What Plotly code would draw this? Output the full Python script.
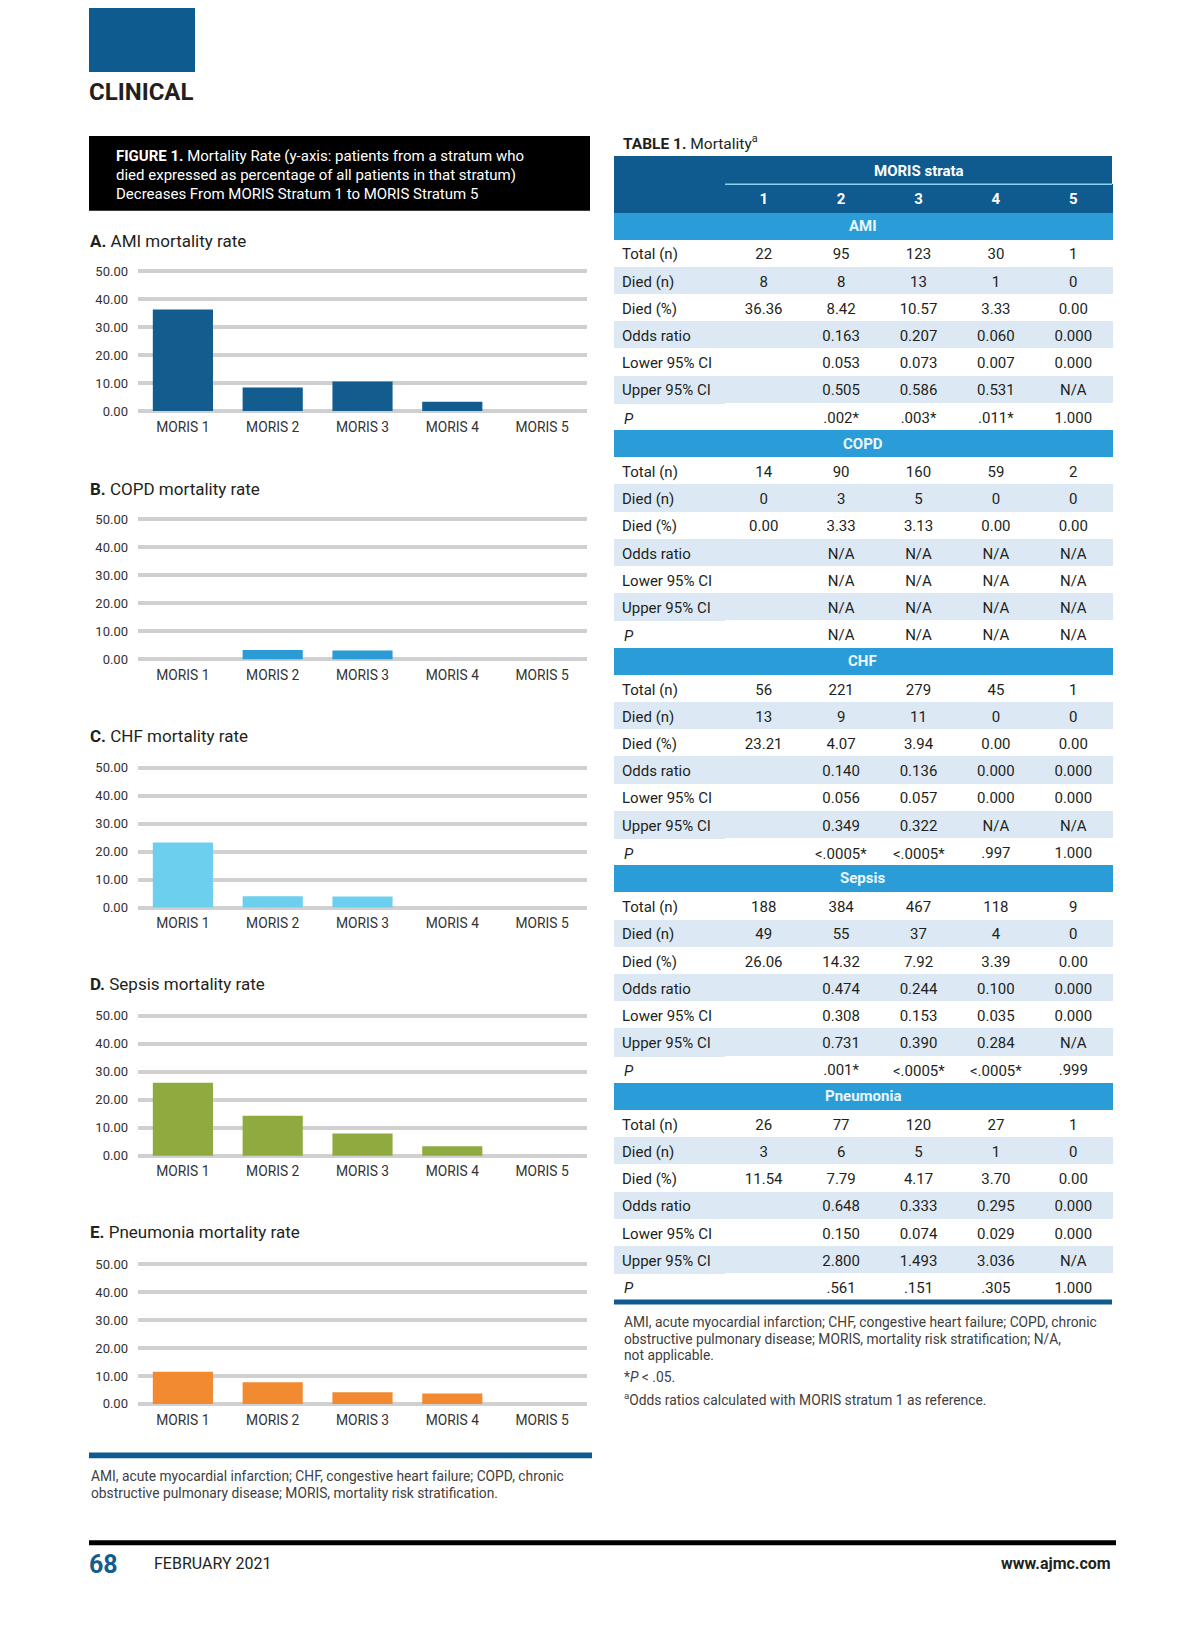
import plotly.graph_objects as go

# The page body has an 8px default margin; the figure is offset by it.
OFF = 8
PAGE_W, PAGE_H = 1200, 1638
W, H = PAGE_W - OFF, PAGE_H - OFF
FONT = "Roboto"
INK = "#231f20"
DARK_BLUE = "#0f5a8e"
BAND_BLUE = "#2a9dd8"
LIGHT_ROW = "#dce9f5"
NOTE = "#404040"

# ---------------- data ----------------
strata = ["MORIS 1", "MORIS 2", "MORIS 3", "MORIS 4", "MORIS 5"]
y_ticks = [0, 10, 20, 30, 40, 50]

ami_died_pct = [36.36, 8.42, 10.57, 3.33, 0.00]
copd_died_pct = [0.00, 3.33, 3.13, 0.00, 0.00]
chf_died_pct = [23.21, 4.07, 3.94, 0.00, 0.00]
sepsis_died_pct = [26.06, 14.32, 7.92, 3.39, 0.00]
pneumonia_died_pct = [11.54, 7.79, 4.17, 3.70, 0.00]

chart_titles = ["<b>A.</b> AMI mortality rate", "<b>B.</b> COPD mortality rate",
                "<b>C.</b> CHF mortality rate", "<b>D.</b> Sepsis mortality rate",
                "<b>E.</b> Pneumonia mortality rate"]
bar_colors = ["#135c8e", "#2b9bd6", "#6dcfee", "#8fab3f", "#f18a31"]

strata_numbers = ["1", "2", "3", "4", "5"]
row_labels = ["Total (n)", "Died (n)", "Died (%)", "Odds ratio",
              "Lower 95% CI", "Upper 95% CI", "P"]
section_names = ["AMI", "COPD", "CHF", "Sepsis", "Pneumonia"]

ami_rows = [
    ["22", "95", "123", "30", "1"],
    ["8", "8", "13", "1", "0"],
    ["36.36", "8.42", "10.57", "3.33", "0.00"],
    ["", "0.163", "0.207", "0.060", "0.000"],
    ["", "0.053", "0.073", "0.007", "0.000"],
    ["", "0.505", "0.586", "0.531", "N/A"],
    ["", ".002*", ".003*", ".011*", "1.000"],
]
copd_rows = [
    ["14", "90", "160", "59", "2"],
    ["0", "3", "5", "0", "0"],
    ["0.00", "3.33", "3.13", "0.00", "0.00"],
    ["", "N/A", "N/A", "N/A", "N/A"],
    ["", "N/A", "N/A", "N/A", "N/A"],
    ["", "N/A", "N/A", "N/A", "N/A"],
    ["", "N/A", "N/A", "N/A", "N/A"],
]
chf_rows = [
    ["56", "221", "279", "45", "1"],
    ["13", "9", "11", "0", "0"],
    ["23.21", "4.07", "3.94", "0.00", "0.00"],
    ["", "0.140", "0.136", "0.000", "0.000"],
    ["", "0.056", "0.057", "0.000", "0.000"],
    ["", "0.349", "0.322", "N/A", "N/A"],
    ["", "<.0005*", "<.0005*", ".997", "1.000"],
]
sepsis_rows = [
    ["188", "384", "467", "118", "9"],
    ["49", "55", "37", "4", "0"],
    ["26.06", "14.32", "7.92", "3.39", "0.00"],
    ["", "0.474", "0.244", "0.100", "0.000"],
    ["", "0.308", "0.153", "0.035", "0.000"],
    ["", "0.731", "0.390", "0.284", "N/A"],
    ["", ".001*", "<.0005*", "<.0005*", ".999"],
]
pneumonia_rows = [
    ["26", "77", "120", "27", "1"],
    ["3", "6", "5", "1", "0"],
    ["11.54", "7.79", "4.17", "3.70", "0.00"],
    ["", "0.648", "0.333", "0.295", "0.000"],
    ["", "0.150", "0.074", "0.029", "0.000"],
    ["", "2.800", "1.493", "3.036", "N/A"],
    ["", ".561", ".151", ".305", "1.000"],
]

# ---------------- helpers (page px -> paper) ----------------
def X(px):
    return (px - OFF) / W


def Y(py):
    py = 1.005 * py - 4
    return 1 - (py - OFF) / H


fig = go.Figure()
annotations = []
shapes = []


def text(x, y, s, size=14, color=INK, xanchor="left"):
    annotations.append(dict(x=X(x), y=Y(y), xref="paper", yref="paper", text=s,
                            showarrow=False, xanchor=xanchor, yanchor="middle",
                            font=dict(family=FONT, size=size, color=color)))


def rect(x0, y0, x1, y1, color, layer="below"):
    shapes.append(dict(type="rect", xref="paper", yref="paper", x0=X(x0), x1=X(x1),
                       y0=Y(y1), y1=Y(y0), fillcolor=color, line=dict(width=0), layer=layer))


# ---------------- page header ----------------
rect(89, -10, 195, 71, "#0d5b8f")
text(87, 91, "<b>CLINICAL</b>", size=24)
rect(89, 135, 590, 210, "#000000")
text(114, 155, "<b>FIGURE 1.</b> Mortality Rate (y-axis: patients from a stratum who", 15, "#ffffff")
text(114, 174, "died expressed as percentage of all patients in that stratum)", 15, "#ffffff")
text(114, 193, "Decreases From MORIS Stratum 1 to MORIS Stratum 5", 15, "#ffffff")

# ---------------- bar charts ----------------
series = [ami_died_pct, copd_died_pct, chf_died_pct, sepsis_died_pct, pneumonia_died_pct]
for k, vals in enumerate(series):
    n = k + 1
    y50 = 270.5 + k * 248.5
    y0 = y50 + 140
    pad = 140 / 50
    fig.add_trace(go.Bar(x=strata, y=vals, marker=dict(color=bar_colors[k], line=dict(width=0)),
                         xaxis=f"x{n}", yaxis=f"y{n}", showlegend=False, hoverinfo="skip"))
    fig.layout[f"xaxis{n}"] = dict(domain=[X(138), X(587)], anchor=f"y{n}", showgrid=False,
                                   showline=False, zeroline=False, ticks="",
                                   tickfont=dict(family=FONT, size=13.8, color="#333333"),
                                   ticklabelstandoff=3, fixedrange=True)
    fig.layout[f"yaxis{n}"] = dict(domain=[Y(y0 + pad), Y(y50 - pad)], anchor=f"x{n}",
                                   range=[-1, 51], tickvals=y_ticks, tickformat=".2f",
                                   showgrid=True, gridcolor="#d0d0d0", gridwidth=4,
                                   zeroline=False, showline=False, ticks="", ticklabelstandoff=9,
                                   tickfont=dict(family=FONT, size=13, color="#333333"),
                                   fixedrange=True)
    text(88, 240 + k * 248, chart_titles[k], size=17)

rect(89, 1453, 592, 1459, DARK_BLUE)
text(89, 1477, "AMI, acute myocardial infarction; CHF, congestive heart failure; COPD, chronic", 13.8, NOTE)
text(89, 1494, "obstructive pulmonary disease; MORIS, mortality risk stratification.", 13.8, NOTE)

# ---------------- table ----------------
TBL_L, TBL_R, TBL_T = 614, 1112, 155
SPAN_H, HEADER_H, ROW_H = 28.5, 28.5, 27.2
sections = [ami_rows, copd_rows, chf_rows, sepsis_rows, pneumonia_rows]

n_rows = 8 * len(sections)
head_top = TBL_T + SPAN_H
body_top = head_top + HEADER_H
tbl_bottom = body_top + n_rows * ROW_H
lab_w = 111
val_w = (TBL_R - TBL_L - lab_w) / 5

columns = [[] for _ in range(6)]
fills = [[] for _ in range(6)]
fcolors = [[] for _ in range(6)]
# texts with markup characters (italic P, "<") are laid over their cells so the
# table keeps a uniform row height
overlay = []  # (row index, column index, text)
for s, rows in enumerate(sections):
    for c in range(6):
        columns[c].append("")
        fills[c].append(BAND_BLUE)
        fcolors[c].append("#ffffff")
    for i, row in enumerate(rows):
        r = len(columns[0])
        fill = LIGHT_ROW if i % 2 == 1 else "#ffffff"
        if row_labels[i] == "P":
            overlay.append((r, 0, "<i>P</i>"))
            columns[0].append("")
        else:
            columns[0].append(row_labels[i])
        fills[0].append(fill)
        fcolors[0].append(INK)
        for j in range(5):
            v = row[j]
            if "<" in v:
                overlay.append((r, j + 1, v.replace("<", "&lt;")))
                v = ""
            columns[j + 1].append(v)
            fills[j + 1].append(fill)
            fcolors[j + 1].append(INK)

# spanning "MORIS strata" row
rect(TBL_L, TBL_T, TBL_R, head_top + 1, DARK_BLUE)
text(TBL_L + lab_w + 2.5 * val_w, TBL_T + SPAN_H / 2 + 0.5, "<b>MORIS strata</b>", 15, "#ffffff",
     xanchor="center")

fig.add_trace(go.Table(
    domain=dict(x=[X(TBL_L), X(TBL_R)], y=[Y(tbl_bottom + 60), Y(head_top)]),
    columnwidth=[lab_w] + [val_w] * 5,
    header=dict(values=[""] + strata_numbers,
                fill=dict(color=DARK_BLUE), line=dict(color=DARK_BLUE, width=1),
                align="center", height=HEADER_H,
                font=dict(family=FONT, size=15, color="#ffffff", weight="bold")),
    cells=dict(values=columns, fill=dict(color=fills), line=dict(color=fills, width=1),
               align=["left"] + ["center"] * 5, height=ROW_H,
               font=dict(family=FONT, size=15, color=fcolors)),
))

shapes.append(dict(type="line", xref="paper", yref="paper", x0=X(TBL_L + lab_w), x1=X(TBL_R),
                   y0=Y(head_top), y1=Y(head_top), line=dict(color="#8fd0f0", width=1.5),
                   layer="above"))
# section band titles
for s, name in enumerate(section_names):
    yc = body_top + (s * 8) * ROW_H + ROW_H / 2
    text((TBL_L + TBL_R) / 2, yc, f"<b>{name}</b>", 15, "#eaf7fd", xanchor="center")
# overlaid cell texts
for r, c, t in overlay:
    yc = body_top + r * ROW_H + ROW_H / 2 + 2.5
    if c == 0:
        text(TBL_L + 8, yc, t, 15, INK)
    else:
        text(TBL_L + lab_w + (c - 0.5) * val_w, yc, t, 15, INK, xanchor="center")
# bottom rule
rect(TBL_L, tbl_bottom, TBL_R, tbl_bottom + 5, DARK_BLUE, layer="above")

text(621, 142, "<b>TABLE 1.</b> Mortality<sup>a</sup>", 15.5)
text(622, 1322, "AMI, acute myocardial infarction; CHF, congestive heart failure; COPD, chronic", 13.8, NOTE)
text(622, 1339, "obstructive pulmonary disease; MORIS, mortality risk stratification; N/A,", 13.8, NOTE)
text(622, 1356, "not applicable.", 13.8, NOTE)
text(622, 1378, "*<i>P</i> &lt; .05.", 13.8, NOTE)
text(622, 1400, "<sup>a</sup>Odds ratios calculated with MORIS stratum 1 as reference.", 13.8, NOTE)

# ---------------- page footer ----------------
rect(89, 1541, 1116, 1546, "#000000")
text(87, 1565, "<b>68</b>", 25, "#135c8e")
text(152, 1564, "FEBRUARY 2021", 16)
text(1113, 1564, "<b>www.ajmc.com</b>", 16, xanchor="right")

fig.update_layout(width=W, height=H, margin=dict(l=0, r=0, t=0, b=0),
                  paper_bgcolor="#ffffff", plot_bgcolor="rgba(0,0,0,0)",
                  bargap=0.33, annotations=annotations, shapes=shapes,
                  font=dict(family=FONT, color=INK))

fig.write_html("out.html")
